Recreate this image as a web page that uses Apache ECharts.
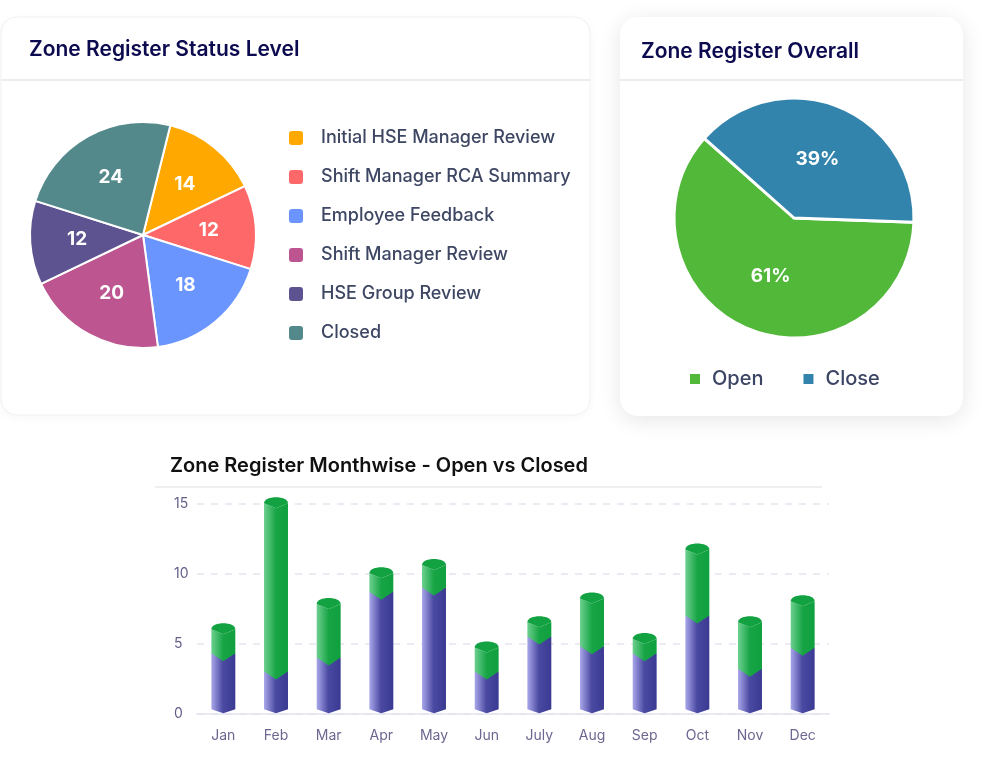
<!DOCTYPE html>
<html>
<head>
<meta charset="utf-8">
<script src="https://cdn.jsdelivr.net/npm/echarts@6/dist/echarts.min.js"></script>
<style>
  html, body { margin: 0; padding: 0; background: #ffffff; }
  #chart { width: 984px; height: 758px; }
</style>
</head>
<body>
<div id="chart"></div>
<script>
// ---------- data ----------
const statusNames = ['Initial HSE Manager Review', 'Shift Manager RCA Summary', 'Employee Feedback', 'Shift Manager Review', 'HSE Group Review', 'Closed'];
const statusValues = [14, 12, 18, 20, 12, 24];

const overallNames = ['Open', 'Close'];
const overallValues = [61, 39];

const months = ['Jan', 'Feb', 'Mar', 'Apr', 'May', 'Jun', 'July', 'Aug', 'Sep', 'Oct', 'Nov', 'Dec'];
const closedCounts = [4.0, 2.7, 3.7, 8.4, 8.7, 2.7, 5.2, 4.5, 4.0, 6.7, 2.9, 4.4];
const openCounts = [2.0, 12.3, 4.1, 1.6, 1.9, 2.0, 1.3, 3.7, 1.3, 5.0, 3.6, 3.6];

const yTicks = [0, 5, 10, 15];

// ---------- styles ----------
const statusColors = ['#FFA800', '#FF6868', '#6A95FF', '#BC5590', '#5C5390', '#54898C'];
const overallColors = ['#52B83A', '#3384AC'];
const FONT = 'Inter, "Noto Sans", sans-serif';

const chart = echarts.init(document.getElementById('chart'), null, { renderer: 'canvas' });

const statusData = statusNames.map((n, i) => ({ name: n, value: statusValues[i], itemStyle: { color: statusColors[i] } }));
const overallData = overallNames.map((n, i) => ({ name: n, value: overallValues[i], itemStyle: { color: overallColors[i] } }));

const purpleGrad = () => new echarts.graphic.LinearGradient(0, 0, 1, 0, [
  { offset: 0, color: '#a9a7ea' },
  { offset: 0.48, color: '#4b4aa2' },
  { offset: 1, color: '#3b3a92' }
]);
const greenGrad = () => new echarts.graphic.LinearGradient(0, 0, 1, 0, [
  { offset: 0, color: '#6dd08f' },
  { offset: 0.5, color: '#17a445' },
  { offset: 1, color: '#10a03e' }
]);

function renderSeg(isTop) {
  return function (params, api) {
    const i = api.value(0);
    const lo = api.coord([i, api.value(1)]);
    const hi = api.coord([i, api.value(2)]);
    const w = api.size([1, 0])[0] * 0.455;
    const cx = lo[0], L = cx - w / 2, R = cx + w / 2;
    const yb = lo[1], yt = hi[1];
    if (!isTop) {
      return {
        type: 'polygon',
        shape: { points: [[L, yt - 4], [R, yt - 4], [R, yb - 4], [cx, yb], [L, yb - 4]] },
        style: { fill: purpleGrad() }
      };
    }
    const bodyPts = [[L, yt], [cx, yt + 5], [R, yt], [R, yb - 4], [cx, yb + 4], [L, yb - 4]];
    const cap = 'M' + L + ' ' + yt + ' L' + cx + ' ' + (yt + 5) + ' L' + R + ' ' + yt +
      ' C' + R + ' ' + (yt - 8) + ' ' + L + ' ' + (yt - 8) + ' ' + L + ' ' + yt + ' Z';
    return {
      type: 'group',
      children: [
        { type: 'polygon', shape: { points: bodyPts }, style: { fill: greenGrad() } },
        { type: 'path', shape: { pathData: cap }, style: { fill: '#13a242' } }
      ]
    };
  };
}

const option = {
  animation: false,
  backgroundColor: '#ffffff',
  textStyle: { fontFamily: FONT },
  graphic: [
    { type: 'rect', z: -10, shape: { x: 1, y: 17, width: 589, height: 398, r: 16 },
      style: { fill: '#ffffff', stroke: '#f1f1f3', lineWidth: 1, shadowBlur: 10, shadowColor: 'rgba(0,0,0,0.04)', shadowOffsetY: 2 } },
    { type: 'rect', z: -10, shape: { x: 620, y: 17, width: 343, height: 399, r: 18 },
      style: { fill: '#ffffff', shadowBlur: 22, shadowColor: 'rgba(0,0,0,0.10)', shadowOffsetY: 4 } },
    { type: 'line', z: -9, shape: { x1: 1, y1: 80, x2: 590, y2: 80 }, style: { stroke: '#ececee', lineWidth: 2 } },
    { type: 'line', z: -9, shape: { x1: 620, y1: 80, x2: 963, y2: 80 }, style: { stroke: '#ececee', lineWidth: 2 } },
    { type: 'line', z: -9, shape: { x1: 155, y1: 487, x2: 822, y2: 487 }, style: { stroke: '#efeff2', lineWidth: 2 } }
  ],
  title: [
    { text: 'Zone Register Status Level', left: 29, top: 39.5, padding: 0,
      textStyle: { fontFamily: FONT, fontSize: 21, fontWeight: 600, color: '#0d0b4f' } },
    { text: 'Zone Register Overall', left: 641, top: 41.5, padding: 0,
      textStyle: { fontFamily: FONT, fontSize: 21, fontWeight: 600, color: '#0d0b4f' } },
    { text: 'Zone Register Monthwise - Open vs Closed', left: 170, top: 456, padding: 0,
      textStyle: { fontFamily: FONT, fontSize: 20, fontWeight: 600, color: '#111111' } }
  ],
  legend: [
    { data: statusNames, orient: 'vertical', left: 287, top: 129, padding: 0,
      itemWidth: 16, itemHeight: 16, itemGap: 21, icon: 'roundRect',
      textStyle: { fontFamily: FONT, fontSize: 18, fontWeight: 500, color: '#3d4663', padding: [0, 0, 0, 12] } },
    { data: overallNames, orient: 'horizontal', left: 688, top: 369, padding: 0,
      itemWidth: 12, itemHeight: 12, itemGap: 38, icon: 'path://M1,0 h10 a1,1 0 0 1 1,1 v10 a1,1 0 0 1 -1,1 h-10 a1,1 0 0 1 -1,-1 v-10 a1,1 0 0 1 1,-1 Z',
      textStyle: { fontFamily: FONT, fontSize: 20, fontWeight: 500, color: '#3c4563', padding: [0, 0, 0, 6] } }
  ],
  grid: { left: 197, right: 155, top: 503.3, bottom: 44.7, containLabel: false },
  xAxis: {
    type: 'category', data: months, boundaryGap: true,
    axisTick: { show: false },
    axisLine: { lineStyle: { color: '#e4e3ee', width: 1.5 } },
    axisLabel: { color: '#6b6790', fontSize: 14, margin: 15, fontFamily: FONT }
  },
  yAxis: {
    type: 'value', min: yTicks[0], max: yTicks[yTicks.length - 1], interval: yTicks[1] - yTicks[0],
    axisLine: { show: false }, axisTick: { show: false },
    axisLabel: { color: '#635f88', fontSize: 14, align: 'left', margin: 23, fontFamily: FONT },
    splitLine: { lineStyle: { color: '#e6e5f0', width: 1.5, type: [7, 7] } }
  },
  series: [
    { type: 'pie', name: 'Status', center: [143, 235], radius: [0, 113], startAngle: 76, clockwise: true,
      data: statusData, label: { show: false }, labelLine: { show: false },
      itemStyle: { borderColor: '#ffffff', borderWidth: 2 }, emphasis: { scale: false } },
    { type: 'pie', name: 'StatusLabels', center: [143, 235], radius: [0, 126], startAngle: 76, clockwise: true,
      silent: true, z: 5,
      data: statusNames.map((n, i) => ({ name: n, value: statusValues[i] })),
      itemStyle: { color: 'rgba(0,0,0,0)' },
      label: { show: true, position: 'inside', formatter: '{c}', color: '#ffffff', fontSize: 19, fontWeight: 700, fontFamily: FONT },
      labelLine: { show: false } },
    { type: 'pie', name: 'Overall', center: [794, 218], radius: [0, 120], startAngle: -2, clockwise: true,
      data: overallData,
      itemStyle: { borderColor: '#ffffff', borderWidth: 3 },
      label: { show: true, position: 'inside', formatter: '{d}%', color: '#ffffff', fontSize: 19, fontWeight: 700, fontFamily: FONT },
      labelLine: { show: false }, emphasis: { scale: false } },
    { type: 'custom', name: 'Monthly Closed', clip: false, z: 3,
      renderItem: renderSeg(false),
      encode: { x: 0, y: [1, 2] },
      data: months.map((m, i) => [i, 0, closedCounts[i]]) },
    { type: 'custom', name: 'Monthly Open', clip: false, z: 4,
      renderItem: renderSeg(true),
      encode: { x: 0, y: [1, 2] },
      data: months.map((m, i) => [i, closedCounts[i], closedCounts[i] + openCounts[i]]) }
  ]
};
chart.setOption(option);
</script>
</body>
</html>
